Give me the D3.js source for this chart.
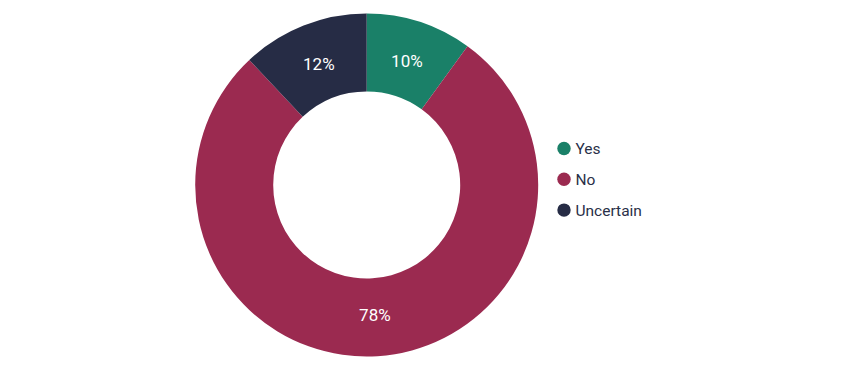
<!DOCTYPE html>
<html>
<head>
<meta charset="utf-8">
<script src="https://cdn.jsdelivr.net/npm/d3@7"></script>
<style>
  body { margin: 0; background: #fff; }
  svg { display: block; font-family: Roboto, "Noto Sans", sans-serif; }
</style>
</head>
<body>
<div id="chart"></div>
<script>
const CATEGORIES = ["Yes", "No", "Uncertain"];
const VALUES = [10, 78, 12];
const COLORS = ["#1a8068", "#9b2a50", "#262c45"];

const WIDTH = 847;
const HEIGHT = 371;
const CX = 366.7;
const CY = 185;
const OUTER = 171.5;
const INNER = 93.5;

const data = CATEGORIES.map((c, i) => ({ name: c, value: VALUES[i] }));

const color = d3.scaleOrdinal().domain(CATEGORIES).range(COLORS);

const pie = d3.pie().sort(null).value(d => d.value);
const arc = d3.arc().innerRadius(INNER).outerRadius(OUTER);
const labelArc = d3.arc().innerRadius(130).outerRadius(130);

const svg = d3.select('#chart')
  .append('svg')
  .attr('width', WIDTH)
  .attr('height', HEIGHT);

const g = svg.append('g')
  .attr('transform', 'translate(' + CX + ',' + CY + ')');

const arcs = pie(data);

g.selectAll('path')
  .data(arcs)
  .enter()
  .append('path')
  .attr('d', arc)
  .attr('fill', d => color(d.data.name));

g.selectAll('text')
  .data(arcs)
  .enter()
  .append('text')
  .attr('transform', d => 'translate(' + labelArc.centroid(d) + ')')
  .attr('text-anchor', 'middle')
  .attr('dy', '0.35em')
  .attr('fill', '#fff')
  .attr('font-size', 17)
  .text(d => d.data.value + '%');

// legend
const legend = svg.append('g')
  .attr('transform', 'translate(564,148.5)');

const item = legend.selectAll('g')
  .data(CATEGORIES)
  .enter()
  .append('g')
  .attr('transform', (d, i) => 'translate(0,' + (i * 30.8) + ')');

item.append('circle')
  .attr('r', 6.7)
  .attr('fill', d => color(d));

item.append('text')
  .attr('x', 11.5)
  .attr('dy', '0.35em')
  .attr('font-size', 15.5)
  .attr('fill', '#2a3048')
  .text(d => d);
</script>
</body>
</html>
